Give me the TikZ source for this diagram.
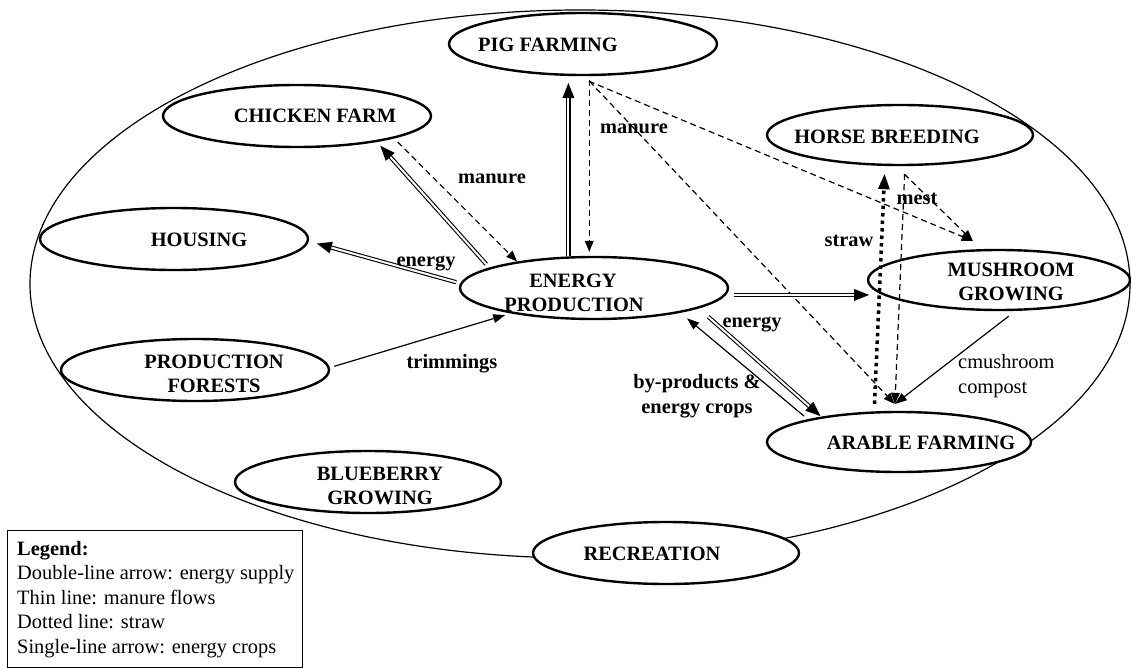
\documentclass[tikz,border=0pt]{standalone}
\usepackage{fontspec}
\setmainfont{Liberation Serif}
\usetikzlibrary{arrows.meta,shapes.geometric}
\begin{document}
\begin{tikzpicture}[x=1pt,y=-1pt,
  ell/.style={draw, fill=white, ellipse, line width=2.4pt, inner sep=0pt, minimum width=268pt, minimum height=62pt},
  nt/.style={font=\bfseries\fontsize{20.4}{24}\selectfont, anchor=base, inner sep=0pt},
  rl/.style={font=\fontsize{20.4}{24}\selectfont, anchor=base west, inner sep=0pt},
  energyarrow/.style={double, line width=1.1pt, double distance=2pt, -{Triangle[length=15pt,width=12pt,line width=0pt]}},
  manurearrow/.style={line width=1.2pt, dash pattern=on 6pt off 4pt, -{Triangle[length=11pt,width=9pt,line width=0pt]}},
  strawarrow/.style={line width=3.5pt, dash pattern=on 3.5pt off 4pt, -{Triangle[length=15pt,width=12pt,line width=0pt]}},
  croparrow/.style={line width=1.2pt, -{Triangle[length=12pt,width=9pt,line width=0pt]}}
]
\useasboundingbox (0,0) rectangle (1131,668);

% outer ellipse
\draw[line width=1.2pt] (580,284) ellipse [x radius=550, y radius=274];

% nodes
\node[ell] (pig) at (583,44) {};
\node[ell] (chicken) at (297,116) {};
\node[ell] (housing) at (174,239) {};
\node[ell] (energy) at (594,288) {};
\node[ell] (forests) at (195,370) {};
\node[ell, minimum width=266pt] (blueberry) at (368,482) {};
\node[ell, minimum width=266pt] (recreation) at (666,553) {};
\node[ell, minimum width=266pt, minimum height=60pt] (horse) at (900,135) {};
\node[ell, minimum width=262pt, minimum height=60pt] (mushroom) at (999,280) {};
\node[ell, minimum width=264pt, minimum height=60pt] (arable) at (899,442) {};

% node texts
\node[nt] (tpig) at (548,52) {PIG FARMING};
\node[nt] (tchicken) at (315,123) {CHICKEN FARM};
\node[nt] (thousing) at (199,246) {HOUSING};
\node[nt] (tenergy1) at (573,287) {ENERGY};
\node[nt] (tenergy2) at (574,311) {PRODUCTION};
\node[nt] (tforests1) at (214,368) {PRODUCTION};
\node[nt] (tforests2) at (214,392) {FORESTS};
\node[nt] (tblue1) at (380,480) {BLUEBERRY};
\node[nt] (tblue2) at (380,504) {GROWING};
\node[nt] (trec) at (652,560) {RECREATION};
\node[nt] (thorse) at (887,144) {HORSE BREEDING};
\node[nt] (tmush1) at (1011,276.5) {MUSHROOM};
\node[nt] (tmush2) at (1011,300.5) {GROWING};
\node[nt] (tarable) at (921,449) {ARABLE FARMING};

% connectors
\draw[energyarrow, shorten <=4.6pt, shorten >=5pt] (energy.169.3) -- (chicken.-18.1);
\draw[manurearrow, shorten <=5pt] (chicken.-13.7) -- (energy.161.9);
\draw[energyarrow, shorten <=4.2pt, shorten >=8.3pt] (energy.178.3) -- (housing.-1.6);
\draw[energyarrow, shorten >=7pt] (energy.129.4) -- (energy.129.4 |- pig.-114.4);
\draw[manurearrow, shorten <=4pt, shorten >=4pt] (pig.-79) -- (pig.-79 |- energy.99.2);
\draw[manurearrow, shorten <=13pt, shorten >=20.7pt] (pig.-101) -- (mushroom.103);
\draw[manurearrow, shorten <=6.9pt, shorten >=9.6pt] (pig.-87.6) -- (arable.86.9);
\draw[manurearrow, shorten <=11.3pt, shorten >=11.7pt] (horse.-97.6) -- (mushroom.120.8);
\draw[manurearrow, shorten <=8pt, shorten >=7pt] (horse.-81.8) -- (arable.98.2);
\draw[strawarrow, shorten <=7.5pt, shorten >=8.2pt] (arable.129.5) -- (horse.-116.1);
\draw[energyarrow, shorten <=7.5pt, shorten >=12.6pt] (energy.-3.07) -- (energy.-3.07 -| mushroom.187.5);
\draw[croparrow, shorten <=8.4pt, shorten >=11.4pt] (mushroom.-62.4) -- (arable.113.3);
\draw[energyarrow, shorten <=12.7pt, shorten >=0.8pt] (energy.-11.8) -- (arable.162.2);
\draw[croparrow, shorten <=4.9pt, shorten >=8.75pt] (arable.166.4) -- (energy.-16.6);
\draw[croparrow, shorten <=4.7pt, shorten >=6pt] (forests.1.2) -- (energy.197.2);

% connector labels
\node[nt] (lmanure1) at (492,184) {manure};
\node[nt] (lmanure2) at (634,134) {manure};
\node[nt] (lenergy1) at (426,266) {energy};
\node[nt] (lmest) at (917,205) {mest};
\node[nt] (lstraw) at (849,247) {straw};
\node[nt] (lenergy2) at (752,327) {energy};
\node[nt] (lby1) at (697,388) {by-products \&};
\node[nt] (lby2) at (697,413) {energy crops};
\node[nt] (ltrim) at (452,368) {trimmings};
\node[rl] (lcomp1) at (958,368) {cmushroom};
\node[rl] (lcomp2) at (958,393) {compost};

% legend
\node[draw, line width=1.2pt, minimum width=295pt, minimum height=137pt, anchor=north west, inner sep=0pt] (legendbox) at (7,530) {};
\node[rl, font=\bfseries\fontsize{20.4}{24}\selectfont] (leg0) at (17,555) {Legend:};
\node[rl] (leg1) at (17,579.5) {Double-line arrow: energy supply};
\node[rl] (leg2) at (17,604) {Thin line: manure flows};
\node[rl] (leg3) at (17,628.5) {Dotted line: straw};
\node[rl] (leg4) at (17,653) {Single-line arrow: energy crops};
\end{tikzpicture}
\end{document}
